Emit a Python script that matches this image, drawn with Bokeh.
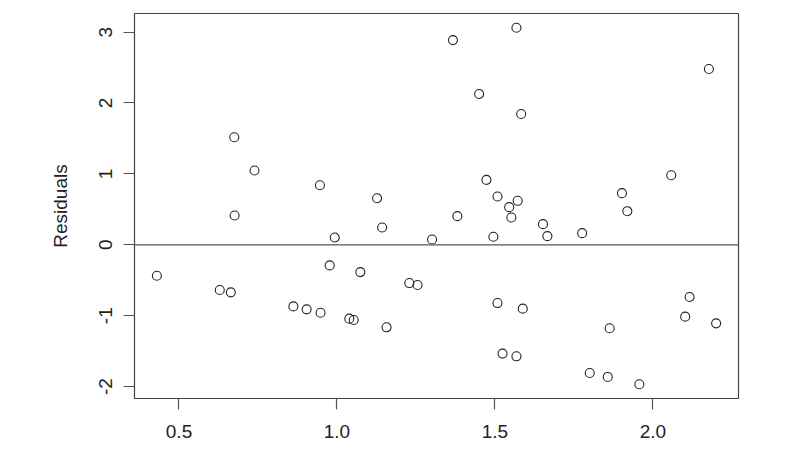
from bokeh.plotting import figure
from bokeh.models import Range1d, FixedTicker, Span
from bokeh.embed import file_html
from bokeh.resources import INLINE

# Fitted values (x) and residuals (y)
fitted = [1.367, 0.675, 0.739, 0.946, 1.127, 0.676, 1.381, 1.143,
          1.568, 2.177, 1.450, 1.583, 2.058, 1.473, 1.902, 1.508, 1.572, 1.545, 1.919, 1.552, 1.652,
          0.993, 1.301, 0.430, 0.977, 1.074, 0.629, 0.664, 1.229, 1.255, 0.862, 0.904, 0.948, 1.039, 1.053, 1.157,
          1.495, 1.666, 1.776, 1.508, 1.588, 2.116, 2.102, 2.200, 1.863, 1.524, 1.568, 1.800, 1.857, 1.957]
residuals = [2.887, 1.517, 1.047, 0.840, 0.657, 0.413, 0.404, 0.244,
             3.061, 2.479, 2.127, 1.845, 0.981, 0.915, 0.728, 0.681, 0.620, 0.531, 0.474, 0.385, 0.291,
             0.103, 0.075, -0.437, -0.291, -0.385, -0.638, -0.671, -0.540, -0.568, -0.869, -0.911, -0.958, -1.042, -1.061, -1.164,
             0.113, 0.122, 0.164, -0.822, -0.901, -0.737, -1.014, -1.108, -1.178, -1.535, -1.573, -1.808, -1.864, -1.967]

x_ticks = [0.5, 1.0, 1.5, 2.0]
x_tick_labels = ["0.5", "1.0", "1.5", "2.0"]
y_ticks = [-2, -1, 0, 1, 2, 3]
y_tick_labels = ["-2", "-1", "0", "1", "2", "3"]
y_label = "Residuals"

def ext(vals):
    lo, hi = min(vals), max(vals)
    d = (hi - lo) * 0.04
    return lo - d, hi + d

x0, x1 = ext(fitted)
y0, y1 = ext(residuals)

FONT = "Liberation Sans"
p = figure(frame_width=604, frame_height=385, output_backend="svg", toolbar_location=None,
           x_range=Range1d(x0, x1), y_range=Range1d(y0, y1),
           min_border_left=134, min_border_right=40, min_border_top=13, min_border_bottom=48)
p.background_fill_color = "white"
p.border_fill_color = "white"
p.outline_line_color = "#444444"
p.outline_line_width = 1.2
p.xgrid.visible = False
p.ygrid.visible = False

for ax in (p.xaxis[0], p.yaxis[0]):
    ax.axis_line_color = None
    ax.major_tick_line_color = "#555555"
    ax.major_tick_line_width = 1.2
    ax.minor_tick_line_color = None
    ax.major_tick_in = 0
    ax.major_tick_out = 11
    ax.major_label_text_font = FONT
    ax.major_label_text_font_size = "19px"
    ax.major_label_text_color = "#222222"

p.xaxis[0].ticker = FixedTicker(ticks=x_ticks)
p.xaxis[0].major_label_overrides = {t: l for t, l in zip(x_ticks, x_tick_labels)}
p.xaxis[0].major_label_standoff = 15

p.yaxis[0].ticker = FixedTicker(ticks=y_ticks)
p.yaxis[0].major_label_overrides = {t: l for t, l in zip(y_ticks, y_tick_labels)}
p.yaxis[0].major_label_orientation = "vertical"
p.yaxis[0].major_label_standoff = 11
p.yaxis[0].axis_label = y_label
p.yaxis[0].axis_label_text_font = FONT
p.yaxis[0].axis_label_text_font_size = "19px"
p.yaxis[0].axis_label_text_font_style = "normal"
p.yaxis[0].axis_label_text_color = "#222222"
p.yaxis[0].axis_label_standoff = 26

p.add_layout(Span(location=0, dimension="width", line_color="#555555", line_width=1.2))

p.scatter(fitted, residuals, marker="circle", size=9, fill_color=None,
          line_color="#222222", line_width=1.1)

open("out.html", "w").write(file_html(p, INLINE))
